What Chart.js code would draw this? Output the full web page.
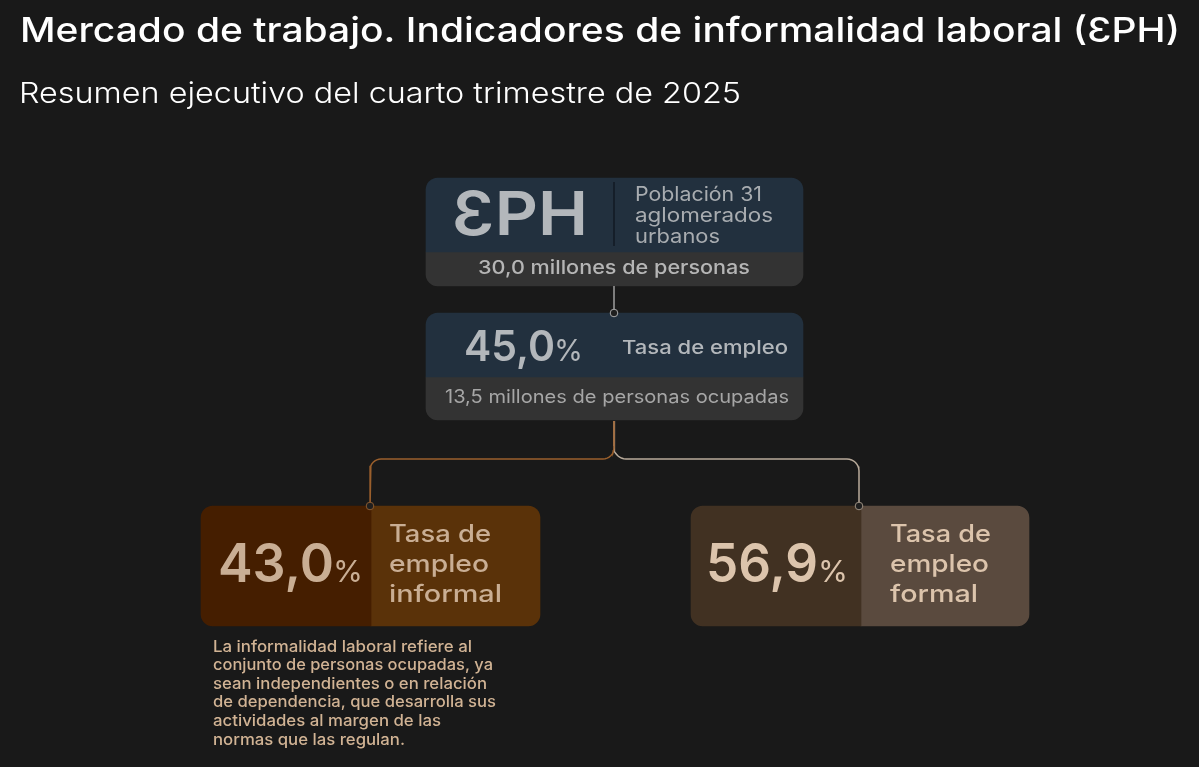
<!DOCTYPE html>
<html lang="es">
<head>
<meta charset="utf-8">
<title>Mercado de trabajo</title>
<script src="https://cdn.jsdelivr.net/npm/chart.js@4"></script>
<style>
  html, body { margin: 0; padding: 0; background: #191919; }
  #wrap { position: relative; width: 1199px; height: 767px; }
</style>
</head>
<body>
<div id="wrap"><canvas id="chart"></canvas></div>
<script>
// values
const poblacionMillones = [30.0];
const ocupadosMillones = [13.5];
const tasaCategorias = ["Tasa de empleo", "Tasa de empleo informal", "Tasa de empleo formal"];
const tasaValores = [45.0, 43.0, 56.9];
const notaInformal = [
  "La informalidad laboral refiere al",
  "conjunto de personas ocupadas, ya",
  "sean independientes o en relación",
  "de dependencia, que desarrolla sus",
  "actividades al margen de las",
  "normas que las regulan."
];

const FONT = "Inter, 'Noto Sans', sans-serif";
const fmt = v => v.toFixed(1).replace(".", ",");

// boxes: left, right, top, bottom, colour, rounded side
const boxes = [
  [426, 803, 178, 252, "#22303e", "top"],
  [426, 803, 252, 286, "#333333", "bottom"],
  [426, 803, 313, 377, "#22303e", "top"],
  [426, 803, 377, 420, "#333333", "bottom"],
  [201, 371, 506, 626, "#451e00", "left"],
  [371, 540, 506, 626, "#5a3209", "right"],
  [691, 861, 506, 626, "#413122", "left"],
  [861, 1029, 506, 626, "#5a4a3e", "right"]
];

function radius(side, r) {
  return {
    topLeft: side === "top" || side === "left" ? r : 0,
    topRight: side === "top" || side === "right" ? r : 0,
    bottomLeft: side === "bottom" || side === "left" ? r : 0,
    bottomRight: side === "bottom" || side === "right" ? r : 0
  };
}

const boxSets = boxes.map(b => ({
  type: "bar",
  data: [{ x: (b[0] + b[1]) / 2, y: [b[2], b[3]] }],
  barThickness: b[1] - b[0],
  backgroundColor: b[4],
  borderRadius: radius(b[5], 12),
  borderSkipped: false,
  grouped: false,
  order: 5
}));

// connector from the trunk to a box, rounded at both elbows
function elbow(xFrom, yFrom, yMid, xTo, yTo, r) {
  const dir = xTo > xFrom ? 1 : -1;
  const pts = [{ x: xFrom, y: yFrom }];
  for (let i = 0; i <= 8; i++) {
    const a = (i / 8) * Math.PI / 2;
    pts.push({ x: xFrom + dir * r * (1 - Math.cos(a)), y: yMid - r + r * Math.sin(a) });
  }
  for (let i = 0; i <= 8; i++) {
    const a = (i / 8) * Math.PI / 2;
    pts.push({ x: xTo - dir * r * (1 - Math.sin(a)), y: yMid + r - r * Math.cos(a) });
  }
  pts.push({ x: xTo, y: yTo });
  return pts;
}

function lineSet(data, color, width) {
  return { type: "line", data, borderColor: color, borderWidth: width, pointRadius: 0, tension: 0, fill: false, order: 2 };
}

function dotSet(x, y, color) {
  return {
    type: "scatter", data: [{ x, y }], pointRadius: 3.8, pointBorderWidth: 1,
    pointBackgroundColor: "#1f1f1f", pointBorderColor: color, order: 1
  };
}

const lineSets = [
  lineSet([{ x: 614, y: 182 }, { x: 614, y: 246 }], "#141d26", 1),
  lineSet([{ x: 614, y: 286 }, { x: 614, y: 313 }], "#a8a8a8", 1.4),
  lineSet(elbow(614, 421, 459, 370, 506, 11), "#9a5f2c", 1.5),
  lineSet(elbow(614, 421, 459, 859, 506, 12), "#b9ab9b", 1.5),
  lineSet([{ x: 614, y: 421 }, { x: 614, y: 446 }], "#b89c82", 1.6),
  dotSet(614, 313, "#a8a8a8"),
  dotSet(370, 506, "#8a5a30"),
  dotSet(859, 506, "#9c9082")
];

const grisA = "#b3b7bb";
const grisB = "#a8acb0";
const cobre = "#c9ae94";
const arena = "#dcc4ac";

// text, left, baseline, size, weight, colour, right edge
const texts = [
  ["Mercado de trabajo. Indicadores de informalidad laboral (ƐPH)", 20, 42, 34, 550, "#ffffff", 1180],
  ["Resumen ejecutivo del cuarto trimestre de 2025", 19, 103, 29, 300, "#ffffff", 741],
  ["ƐPH", 452, 235, 61, 600, grisA, 588],
  ["Población 31", 635, 201, 20, 400, grisB, 762],
  ["aglomerados", 635, 222, 20, 400, grisB, 773],
  ["urbanos", 635, 243, 20, 400, grisB, 720],
  [fmt(poblacionMillones[0]) + " millones de personas", 478, 274, 19, 500, "#b5b5b5", 750],
  [fmt(tasaValores[0]), 464, 361, 42, 600, grisA, 555],
  ["%", 554, 361, 30, 400, grisA, 583],
  [tasaCategorias[0], 622, 354, 19, 500, grisA, 788],
  [fmt(ocupadosMillones[0]) + " millones de personas ocupadas", 445, 403, 18, 400, "#a6a6a6", 789],
  [fmt(tasaValores[1]), 218, 582, 53, 600, cobre, 334],
  ["%", 333, 582, 30, 400, cobre, 363],
  ["Tasa de", 389, 542, 24, 500, cobre, 491],
  ["empleo", 389, 572, 24, 500, cobre, 489],
  ["informal", 389, 602, 24, 500, cobre, 502],
  [fmt(tasaValores[2]), 706, 582, 53, 600, arena, 818],
  ["%", 818, 582, 30, 400, arena, 848],
  ["Tasa de", 890, 542, 24, 500, arena, 991],
  ["empleo", 890, 572, 24, 500, arena, 989],
  ["formal", 890, 602, 24, 500, arena, 978]
];
const notaBase = [652, 670, 689, 707, 726, 745];
const notaFin = [472, 493, 487, 496, 441, 405];
notaInformal.forEach((t, i) => texts.push([t, 213, notaBase[i], 16, 500, "#d1b394", notaFin[i]]));

// Montserrat is not installed, so Inter gets stretched sideways to the same width
const textPlugin = {
  id: "diagramText",
  afterDatasetsDraw(chart) {
    const { ctx, scales } = chart;
    ctx.textBaseline = "alphabetic";
    ctx.textAlign = "left";
    for (const [str, x, y, size, weight, color, right] of texts) {
      ctx.save();
      ctx.font = `${weight} ${size}px ${FONT}`;
      ctx.fillStyle = color;
      ctx.translate(scales.x.getPixelForValue(x), scales.y.getPixelForValue(y));
      ctx.scale((right - x) / ctx.measureText(str).width, 1);
      ctx.fillText(str, 0, 0);
      ctx.restore();
    }
  }
};

new Chart(document.getElementById("chart"), {
  data: { datasets: [...lineSets, ...boxSets] },
  plugins: [textPlugin],
  options: {
    responsive: true,
    maintainAspectRatio: false,
    animation: false,
    layout: { padding: 0, autoPadding: false },
    plugins: { legend: { display: false }, tooltip: { enabled: false }, title: { display: false } },
    scales: {
      x: { type: "linear", min: 0, max: 1199, offset: false, display: false },
      y: { type: "linear", min: 0, max: 767, reverse: true, display: false }
    }
  }
});
</script>
</body>
</html>
